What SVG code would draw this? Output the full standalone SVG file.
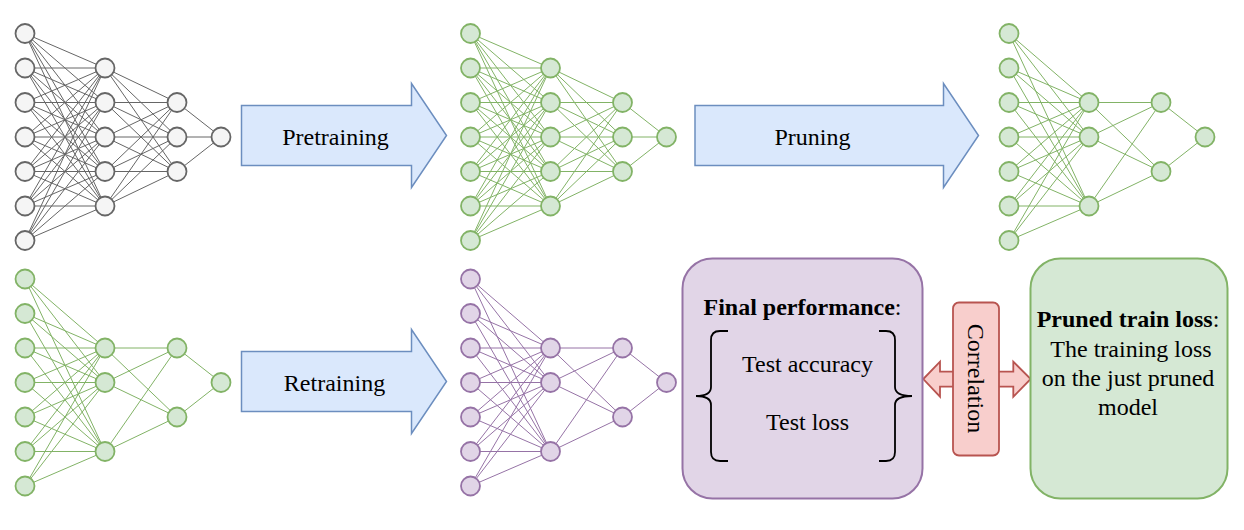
<svg xmlns="http://www.w3.org/2000/svg" xmlns:xlink="http://www.w3.org/1999/xlink" width="1244" height="530" viewBox="0 0 1244 530">
<style>
.ng{fill:#f5f5f5;stroke:#666666;stroke-width:1.8}
.nG{fill:#d5e8d4;stroke:#82b366;stroke-width:1.8}
.nP{fill:#e1d5e7;stroke:#9673a6;stroke-width:1.8}
.blk{fill:#dae8fc;stroke:#6c8ebf;stroke-width:1.5}
.t{font-family:"Liberation Serif","Times New Roman",serif;font-size:24px;fill:#000000}
.brace{fill:none;stroke:#000000;stroke-width:1.8}
</style>
<defs>
<path id="fullEdges" fill="none" stroke-width="1" d="M0 33.5L80 68M0 33.5L80 102.5M0 33.5L80 137M0 33.5L80 171.5M0 33.5L80 206M0 68L80 68M0 68L80 102.5M0 68L80 137M0 68L80 171.5M0 68L80 206M0 102.5L80 68M0 102.5L80 102.5M0 102.5L80 137M0 102.5L80 171.5M0 102.5L80 206M0 137L80 68M0 137L80 102.5M0 137L80 137M0 137L80 171.5M0 137L80 206M0 171.5L80 68M0 171.5L80 102.5M0 171.5L80 137M0 171.5L80 171.5M0 171.5L80 206M0 206L80 68M0 206L80 102.5M0 206L80 137M0 206L80 171.5M0 206L80 206M0 240.5L80 68M0 240.5L80 102.5M0 240.5L80 137M0 240.5L80 171.5M0 240.5L80 206M80 68L152 102.5M80 68L152 137M80 68L152 171.5M80 102.5L152 102.5M80 102.5L152 137M80 102.5L152 171.5M80 137L152 102.5M80 137L152 137M80 137L152 171.5M80 171.5L152 102.5M80 171.5L152 137M80 171.5L152 171.5M80 206L152 102.5M80 206L152 137M80 206L152 171.5M152 102.5L196 137M152 137L196 137M152 171.5L196 137"/>
<path id="prunedEdges" fill="none" stroke-width="1" d="M0 33.5L80 102.5M0 33.5L80 137M0 33.5L80 206M0 68L80 102.5M0 68L80 137M0 68L80 206M0 102.5L80 102.5M0 102.5L80 137M0 102.5L80 206M0 137L80 102.5M0 137L80 137M0 137L80 206M0 171.5L80 102.5M0 171.5L80 137M0 171.5L80 206M0 206L80 102.5M0 206L80 137M0 206L80 206M0 240.5L80 102.5M0 240.5L80 137M0 240.5L80 206M80 102.5L152 102.5M80 102.5L152 171.5M80 137L152 102.5M80 137L152 171.5M80 206L152 102.5M80 206L152 171.5M152 102.5L196 137M152 171.5L196 137"/>
</defs>
<rect width="1244" height="530" fill="#ffffff"/>
<g id="connectors">
<use xlink:href="#fullEdges" href="#fullEdges" transform="translate(25,0)" stroke="#666666"/>
<use xlink:href="#fullEdges" href="#fullEdges" transform="translate(470.5,0)" stroke="#82b366"/>
<use xlink:href="#prunedEdges" href="#prunedEdges" transform="translate(1009,0)" stroke="#82b366"/>
<use xlink:href="#prunedEdges" href="#prunedEdges" transform="translate(25,245.5)" stroke="#82b366"/>
<use xlink:href="#prunedEdges" href="#prunedEdges" transform="translate(470.5,245.5)" stroke="#9673a6"/>
<path id="correlation-arrow" d="M923.3 379L940 361.7V371.7H1013.3V361.7L1030.7 379L1013.3 396.7V386.7H940V396.7Z" fill="#f8cecc" stroke="#b85450" stroke-width="1.8"/>
</g>
<g id="net-initial">
<circle class="ng" cx="25" cy="33.5" r="9.5"/><circle class="ng" cx="25" cy="68" r="9.5"/><circle class="ng" cx="25" cy="102.5" r="9.5"/><circle class="ng" cx="25" cy="137" r="9.5"/><circle class="ng" cx="25" cy="171.5" r="9.5"/><circle class="ng" cx="25" cy="206" r="9.5"/><circle class="ng" cx="25" cy="240.5" r="9.5"/>
<circle class="ng" cx="105" cy="68" r="9.5"/><circle class="ng" cx="105" cy="102.5" r="9.5"/><circle class="ng" cx="105" cy="137" r="9.5"/><circle class="ng" cx="105" cy="171.5" r="9.5"/><circle class="ng" cx="105" cy="206" r="9.5"/>
<circle class="ng" cx="177" cy="102.5" r="9.5"/><circle class="ng" cx="177" cy="137" r="9.5"/><circle class="ng" cx="177" cy="171.5" r="9.5"/>
<circle class="ng" cx="221" cy="137" r="9.5"/>
</g>
<g id="net-pretrained">
<circle class="nG" cx="470.5" cy="33.5" r="9.5"/><circle class="nG" cx="470.5" cy="68" r="9.5"/><circle class="nG" cx="470.5" cy="102.5" r="9.5"/><circle class="nG" cx="470.5" cy="137" r="9.5"/><circle class="nG" cx="470.5" cy="171.5" r="9.5"/><circle class="nG" cx="470.5" cy="206" r="9.5"/><circle class="nG" cx="470.5" cy="240.5" r="9.5"/>
<circle class="nG" cx="550.5" cy="68" r="9.5"/><circle class="nG" cx="550.5" cy="102.5" r="9.5"/><circle class="nG" cx="550.5" cy="137" r="9.5"/><circle class="nG" cx="550.5" cy="171.5" r="9.5"/><circle class="nG" cx="550.5" cy="206" r="9.5"/>
<circle class="nG" cx="622.5" cy="102.5" r="9.5"/><circle class="nG" cx="622.5" cy="137" r="9.5"/><circle class="nG" cx="622.5" cy="171.5" r="9.5"/>
<circle class="nG" cx="666.5" cy="137" r="9.5"/>
</g>
<g id="net-pruned">
<circle class="nG" cx="1009" cy="33.5" r="9.5"/><circle class="nG" cx="1009" cy="68" r="9.5"/><circle class="nG" cx="1009" cy="102.5" r="9.5"/><circle class="nG" cx="1009" cy="137" r="9.5"/><circle class="nG" cx="1009" cy="171.5" r="9.5"/><circle class="nG" cx="1009" cy="206" r="9.5"/><circle class="nG" cx="1009" cy="240.5" r="9.5"/>
<circle class="nG" cx="1089" cy="102.5" r="9.5"/><circle class="nG" cx="1089" cy="137" r="9.5"/><circle class="nG" cx="1089" cy="206" r="9.5"/>
<circle class="nG" cx="1161" cy="102.5" r="9.5"/><circle class="nG" cx="1161" cy="171.5" r="9.5"/>
<circle class="nG" cx="1205" cy="137" r="9.5"/>
</g>
<g id="net-pruned-copy">
<circle class="nG" cx="25" cy="279" r="9.5"/><circle class="nG" cx="25" cy="313.5" r="9.5"/><circle class="nG" cx="25" cy="348" r="9.5"/><circle class="nG" cx="25" cy="382.5" r="9.5"/><circle class="nG" cx="25" cy="417" r="9.5"/><circle class="nG" cx="25" cy="451.5" r="9.5"/><circle class="nG" cx="25" cy="486" r="9.5"/>
<circle class="nG" cx="105" cy="348" r="9.5"/><circle class="nG" cx="105" cy="382.5" r="9.5"/><circle class="nG" cx="105" cy="451.5" r="9.5"/>
<circle class="nG" cx="177" cy="348" r="9.5"/><circle class="nG" cx="177" cy="417" r="9.5"/>
<circle class="nG" cx="221" cy="382.5" r="9.5"/>
</g>
<g id="net-retrained">
<circle class="nP" cx="470.5" cy="279" r="9.5"/><circle class="nP" cx="470.5" cy="313.5" r="9.5"/><circle class="nP" cx="470.5" cy="348" r="9.5"/><circle class="nP" cx="470.5" cy="382.5" r="9.5"/><circle class="nP" cx="470.5" cy="417" r="9.5"/><circle class="nP" cx="470.5" cy="451.5" r="9.5"/><circle class="nP" cx="470.5" cy="486" r="9.5"/>
<circle class="nP" cx="550.5" cy="348" r="9.5"/><circle class="nP" cx="550.5" cy="382.5" r="9.5"/><circle class="nP" cx="550.5" cy="451.5" r="9.5"/>
<circle class="nP" cx="622.5" cy="348" r="9.5"/><circle class="nP" cx="622.5" cy="417" r="9.5"/>
<circle class="nP" cx="666.5" cy="382.5" r="9.5"/>
</g>
<g id="arrow-pretraining">
<path class="blk" d="M241.5 105.5H411.5V83.5L446.5 135.5L411.5 187.5V165.5H241.5Z"/>
<text class="t" x="335.5" y="145" text-anchor="middle">Pretraining</text>
</g>
<g id="arrow-pruning">
<path class="blk" d="M695 105.5H943.5V83.5L978.5 135.5L943.5 187.5V165.5H695Z"/>
<text class="t" x="812.5" y="145" text-anchor="middle">Pruning</text>
</g>
<g id="arrow-retraining">
<path class="blk" d="M241.5 351.5H411.5V329.5L446.5 381.5L411.5 433.5V411.5H241.5Z"/>
<text class="t" x="334.5" y="390.5" text-anchor="middle">Retraining</text>
</g>
<g id="final-performance">
<rect x="682.5" y="258.5" width="240" height="240" rx="30" ry="30" fill="#e1d5e7" stroke="#9673a6" stroke-width="2"/>
<text class="t" x="802.5" y="315" text-anchor="middle"><tspan font-weight="bold">Final performance</tspan>:</text>
<path class="brace" d="M728 331H720Q711 331 711 340V387Q711 396 696 396Q711 396 711 405V452Q711 461 720 461H728"/>
<path class="brace" d="M879 331H886Q895 331 895 340V387Q895 396 912 396Q895 396 895 405V452Q895 461 886 461H879"/>
<text class="t" x="807.5" y="371.5" text-anchor="middle">Test accuracy</text>
<text class="t" x="807.5" y="430" text-anchor="middle">Test loss</text>
</g>
<g id="correlation">
<rect x="953" y="302.5" width="46" height="153" rx="6" ry="6" fill="#f8cecc" stroke="#b85450" stroke-width="1.8"/>
<text class="t" text-anchor="middle" transform="translate(968,378.5) rotate(90)">Correlation</text>
</g>
<g id="pruned-train-loss">
<rect x="1030.5" y="258.5" width="197" height="240" rx="30" ry="30" fill="#d5e8d4" stroke="#82b366" stroke-width="2"/>
<text class="t" x="1128" y="327.3" text-anchor="middle"><tspan font-weight="bold">Pruned train loss</tspan>:</text>
<text class="t" x="1131" y="356.7" text-anchor="middle">The training loss</text>
<text class="t" x="1128" y="386" text-anchor="middle">on the just pruned</text>
<text class="t" x="1128" y="414.5" text-anchor="middle">model</text>
</g>
</svg>
